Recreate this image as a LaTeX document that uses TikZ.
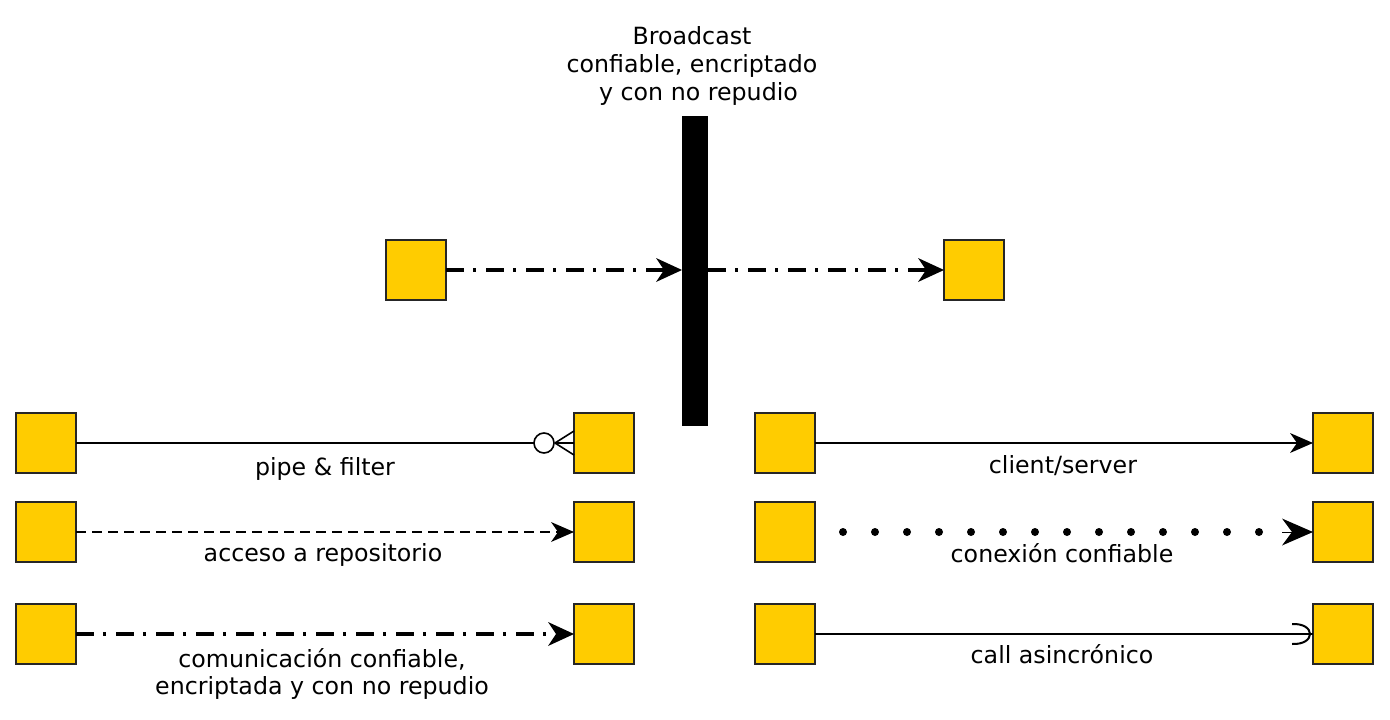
\documentclass[tikz,border=0pt]{standalone}
\usepackage{fontspec}
\setmainfont{DejaVu Sans}
\usetikzlibrary{arrows.meta}
\definecolor{boxyellow}{HTML}{FFCC00}
\tikzset{
  comp/.style={draw=black!85, line width=1.5, fill=boxyellow, minimum width=60, minimum height=60, inner sep=0, outer sep=0},
  lbl/.style={font=\fontsize{23.7}{27}\selectfont, anchor=base, inner sep=0},
  thinline/.style={line width=1.6},
  dashline/.style={line width=1.6, dash pattern=on 10 off 6},
  dashdot/.style={line width=4, dash pattern=on 18 off 9 on 3 off 10},
  dotline/.style={line width=8, line cap=round, dash pattern=on 0 off 32},
  smalltip/.style={-{Stealth[length=23,width=20,inset=7,line width=0]}},
  bigtip/.style={-{Stealth[length=26,width=24,inset=8,line width=0]}},
}
\begin{document}
\begin{tikzpicture}[x=1pt,y=-1pt]
\useasboundingbox (0,0) rectangle (1390,720);
% broadcast bar
\node[fill=black, minimum width=26, minimum height=310, inner sep=0, outer sep=0] (bar) at (695,271) {};
\node[lbl, font=\fontsize{23.7}{28}\selectfont, align=center] (btitle) at (692,100) {Broadcast\\confiable, encriptado\\\hspace*{13pt}y con no repudio};
% boxes
\node[comp] (t1) at (416,270) {};
\node[comp] (t2) at (974,270) {};
\node[comp] (a1) at (46,443) {};
\node[comp] (b1) at (604,443) {};
\node[comp] (a2) at (46,532) {};
\node[comp] (b2) at (604,532) {};
\node[comp] (a3) at (46,634) {};
\node[comp] (b3) at (604,634) {};
\node[comp] (c1) at (785,443) {};
\node[comp] (d1) at (1343,443) {};
\node[comp] (c2) at (785,532) {};
\node[comp] (d2) at (1343,532) {};
\node[comp] (c3) at (785,634) {};
\node[comp] (d3) at (1343,634) {};
% top broadcast arrows
\draw[dashdot, bigtip] (t1.east) -- (t1.east -| bar.west);
\draw[dashdot, bigtip] (t2.west -| bar.east) -- (t2.west);
% pipe & filter
\coordinate (pf) at ([xshift=-40]b1.west);
\coordinate (crow) at ([xshift=-19]b1.west);
\draw[thinline] (a1.east) -- (pf);
\draw[thinline, fill=white] ([xshift=-30]b1.west) circle[radius=10];
\draw[thinline] (crow) -- ([yshift=-12]b1.west)
  (crow) -- (b1.west)
  (crow) -- ([yshift=12]b1.west);
\node[lbl] (l1) at (325,475) {pipe \& filter};
% acceso a repositorio
\draw[dashline, smalltip] (a2.east) -- (b2.west);
\node[lbl] (l2) at (323,561) {acceso a repositorio};
% comunicacion confiable
\draw[dashdot, bigtip] (a3.east) -- (b3.west);
\node[lbl, align=center] (l3) at (322,694) {comunicación confiable,\\encriptada y con no repudio};
% client/server
\draw[thinline, smalltip] (c1.east) -- (d1.west);
\node[lbl] (l4) at (1063,473) {client/server};
% conexion confiable
\draw[dotline] ([xshift=28]c2.east) -- ([xshift=-52]d2.west);
\draw[line width=1, -{Stealth[length=31,width=27,inset=10,line width=0]}] ([xshift=-31]d2.west) -- (d2.west);
\node[lbl] (l5) at (1062,562) {conexión confiable};
% call asincronico
\draw[thinline] (c3.east) -- (d3.west);
\draw[line width=2] ([shift={(-21,-10)}]d3.west) .. controls ([shift={(3,-11)}]d3.west) and ([shift={(3,11)}]d3.west) .. ([shift={(-21,10)}]d3.west);
\node[lbl] (l6) at (1062,663) {call asincrónico};
\end{tikzpicture}
\end{document}
